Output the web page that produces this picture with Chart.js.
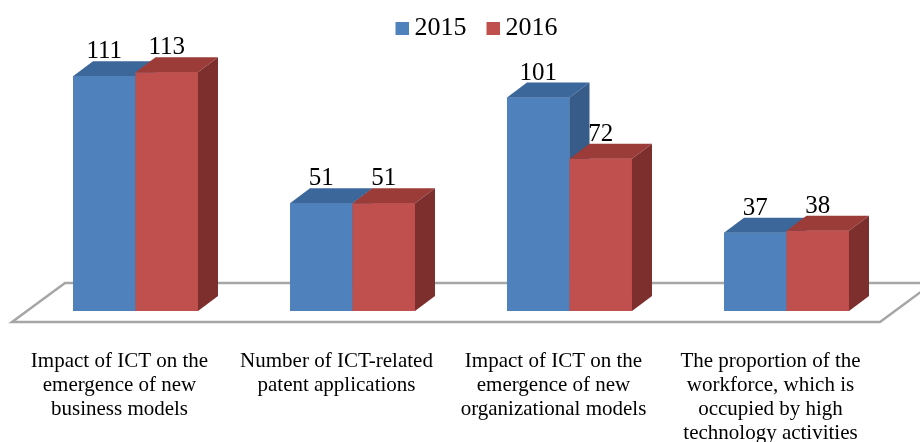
<!DOCTYPE html>
<html>
<head>
<meta charset="utf-8">
<script src="https://cdn.jsdelivr.net/npm/chart.js@4.4.1/dist/chart.umd.min.js"></script>
<style>
    html, body { margin: 0; padding: 0; background: #fff; }
    canvas { display: block; }
</style>
</head>
<body>
<canvas id="chart" width="920" height="442"></canvas>
<script>
"use strict";

const categories = [
    ["Impact of ICT on the", "emergence of new", "business models"],
    ["Number of ICT-related", "patent applications"],
    ["Impact of ICT on the", "emergence of new", "organizational models"],
    ["The proportion of the", "workforce, which is", "occupied by high", "technology activities"]
];
const values2015 = [111, 51, 101, 37];
const values2016 = [113, 51, 72, 38];

const SERIF = '"Liberation Serif", "Times New Roman", serif';
// profundidad del efecto 3D
const DEPTH_X = 20;
const DEPTH_Y = 15;
const FLOOR_X = 53;
const FLOOR_Y = 39;

const faces = [
    { front: 'rgb(79, 129, 189)', top: 'rgb(60, 103, 155)', side: 'rgb(55, 92, 137)' },
    { front: 'rgb(192, 80, 77)', top: 'rgb(156, 60, 57)', side: 'rgb(125, 47, 45)' }
];

// cuadrito de la leyenda, pegado al texto
function swatch(color) {
    const c = document.createElement('canvas');
    c.width = 27;
    c.height = 13;
    const g = c.getContext('2d');
    g.fillStyle = color;
    g.fillRect(14, 0, 13, 13);
    return c;
}
const swatches = faces.map(f => swatch(f.front));

function poly(ctx, pts, color) {
    ctx.beginPath();
    ctx.moveTo(pts[0][0], pts[0][1]);
    for (let i = 1; i < pts.length; i++) ctx.lineTo(pts[i][0], pts[i][1]);
    ctx.closePath();
    ctx.fillStyle = color;
    ctx.fill();
}

const bars3d = {
    id: 'bars3d',
    afterLayout(chart) {
        // la leyenda está algo desplazada a la derecha
        chart.legend.left += 12;
        chart.legend.right += 12;
    },
    beforeDatasetsDraw(chart) {
        const ctx = chart.ctx;
        const area = chart.chartArea;
        const y0 = chart.scales.y.getPixelForValue(0) + 11;
        const x0 = area.left - 15;
        const x1 = area.right - 15;
        ctx.save();
        ctx.beginPath();
        ctx.moveTo(x0, y0);
        ctx.lineTo(x1, y0);
        ctx.lineTo(x1 + FLOOR_X, y0 - FLOOR_Y);
        ctx.lineTo(x0 + FLOOR_X, y0 - FLOOR_Y);
        ctx.closePath();
        ctx.fillStyle = '#fff';
        ctx.fill();
        ctx.strokeStyle = '#a6a6a6';
        ctx.lineWidth = 2.5;
        ctx.stroke();
        ctx.restore();
    },
    afterDatasetsDraw(chart) {
        const ctx = chart.ctx;
        const metas = [chart.getDatasetMeta(0), chart.getDatasetMeta(1)];
        ctx.save();
        for (let i = 0; i < categories.length; i++) {
            metas.forEach((meta, d) => {
                const bar = meta.data[i];
                const l = bar.x - bar.width / 2;
                const r = bar.x + bar.width / 2;
                const t = bar.y;
                const b = bar.base;
                const f = faces[d];
                poly(ctx, [[l, t], [r, t], [r, b], [l, b]], f.front);
                poly(ctx, [[l, t], [l + DEPTH_X, t - DEPTH_Y], [r + DEPTH_X, t - DEPTH_Y], [r, t]], f.top);
                poly(ctx, [[r, t], [r + DEPTH_X, t - DEPTH_Y], [r + DEPTH_X, b - DEPTH_Y], [r, b]], f.side);
            });
        }
        // etiquetas de valores
        ctx.fillStyle = '#000';
        ctx.font = '25px ' + SERIF;
        ctx.textAlign = 'center';
        ctx.textBaseline = 'alphabetic';
        metas.forEach((meta, d) => {
            const values = d === 0 ? values2015 : values2016;
            meta.data.forEach((bar, i) => {
                ctx.fillText(String(values[i]), bar.x, bar.y - 18);
            });
        });
        ctx.restore();
    }
};

new Chart(document.getElementById('chart'), {
    type: 'bar',
    data: {
        labels: categories,
        datasets: [
            {
                label: '2015',
                data: values2015,
                backgroundColor: faces[0].front,
                borderWidth: 0,
                categoryPercentage: 0.576,
                barPercentage: 1
            },
            {
                label: '2016',
                data: values2016,
                backgroundColor: faces[1].front,
                borderWidth: 0,
                categoryPercentage: 0.576,
                barPercentage: 1
            }
        ]
    },
    options: {
        responsive: false,
        devicePixelRatio: 1,
        animation: false,
        events: [],
        layout: {
            padding: { left: 27, right: 25, top: 2, bottom: 0 }
        },
        scales: {
            x: {
                grid: { display: false },
                border: { display: false },
                ticks: {
                    color: '#000',
                    font: { family: SERIF, size: 21, lineHeight: 1.143 },
                    maxRotation: 0,
                    minRotation: 0,
                    autoSkip: false,
                    padding: 30,
                    labelOffset: -16
                },
                afterFit(scale) {
                    scale.height = 131;
                }
            },
            y: {
                display: false,
                min: 0,
                max: 123
            }
        },
        plugins: {
            legend: {
                position: 'top',
                labels: {
                    color: '#000',
                    font: { family: SERIF, size: 26 },
                    usePointStyle: true,
                    boxWidth: 13,
                    boxHeight: 13,
                    padding: 13,
                    generateLabels(chart) {
                        const items = Chart.defaults.plugins.legend.labels.generateLabels(chart);
                        items.forEach((item, i) => { item.pointStyle = swatches[i]; });
                        return items;
                    }
                }
            },
            tooltip: { enabled: false }
        }
    },
    plugins: [bars3d]
});
</script>
</body>
</html>
